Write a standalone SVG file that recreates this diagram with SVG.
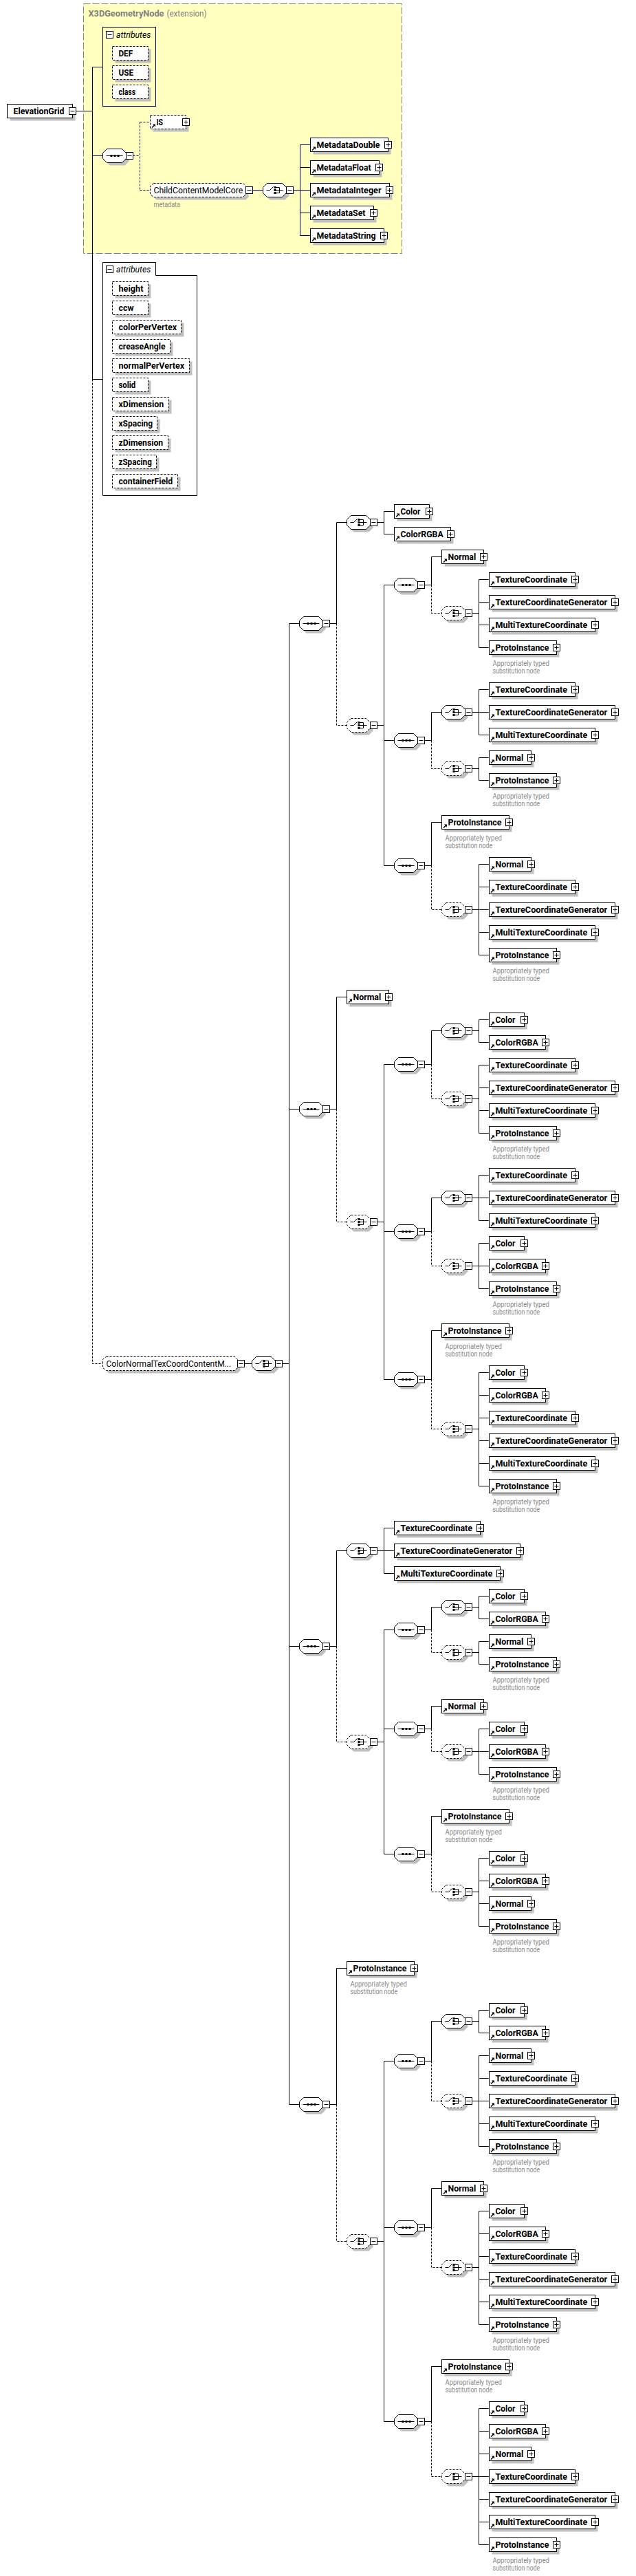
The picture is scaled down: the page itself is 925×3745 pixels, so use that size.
<svg xmlns="http://www.w3.org/2000/svg" width="925" height="3745" viewBox="0 0 925 3745">
<style>
text{font-family:Roboto,"Liberation Sans",sans-serif;fill:#000}
.t{font-size:12.5px;font-weight:700}
.r{font-size:12.5px}
.i{font-size:12.5px;font-style:italic}
.k{font-size:10.5px;fill:#8a8a8a}
.g{font-size:12.5px;fill:#808080}
.gb{font-size:12.5px;font-weight:700;fill:#808080}
.c{fill:none;stroke:#000;stroke-width:1}
.d{fill:none;stroke:#000;stroke-width:1;stroke-dasharray:3 2}
.b{fill:#fff;stroke:#000;stroke-width:1}
.bd{fill:#fff;stroke:#000;stroke-width:1;stroke-dasharray:3 2}
.s{fill:#c0c0c0}
.y{fill:#ffffc0;stroke:#808080;stroke-width:1;stroke-dasharray:10 3}
</style>
<defs>
<g id="m"><rect class="b" x="0" y="-5" width="10" height="10"/><path class="c" d="M2 0H8"/></g>
<g id="p"><rect class="b" x="-5" y="-5" width="10" height="10"/><path class="c" d="M-3 0H3M0 -3V3M0 5V7"/></g>
<g id="a"><path d="M2 8.5L5 5.5L3.5 4H7.5V8L6 6.5L3 9.5Z" fill="#000"/></g>
<path id="seqicon" class="c" d="M5 0H29"/>
<g id="seq"><polygon class="s" points="10,-6 32,-6 38,0 38,8 32,14 10,14 4,8 4,0"/><polygon class="b" points="6,-10 28,-10 34,-4 34,4 28,10 6,10 0,4 0,-4"/><use href="#seqicon"/><path d="M11 -1.5h3v3h-3zM16 -1.5h3v3h-3zM21 -1.5h3v3h-3z" fill="#000"/><use href="#m" x="34"/></g>
<g id="chi"><path class="c" d="M5 0H10L15 -5M18 -4H24V4H18M18 0H29"/><path d="M16 -5.5h3v3h-3zM16 -1.5h3v3h-3zM16 2.5h3v3h-3z" fill="#000"/></g>
<g id="ch"><polygon class="s" points="10,-6 32,-6 38,0 38,8 32,14 10,14 4,8 4,0"/><polygon class="b" points="6,-10 28,-10 34,-4 34,4 28,10 6,10 0,4 0,-4"/><use href="#chi"/><use href="#m" x="34"/></g>
<g id="chd"><polygon class="s" points="10,-6 32,-6 38,0 38,8 32,14 10,14 4,8 4,0"/><polygon class="bd" points="6,-10 28,-10 34,-4 34,4 28,10 6,10 0,4 0,-4"/><use href="#chi"/><use href="#m" x="34"/></g>
<g id="fC"><rect class="s" x="4" y="-6" width="51" height="20"/><rect class="b" x="0" y="-10" width="51" height="20"/><use href="#a" y="-1"/><use href="#p" x="51"/></g>
<g id="fR"><rect class="s" x="4" y="-6" width="82" height="20"/><rect class="b" x="0" y="-10" width="82" height="20"/><use href="#a" y="-1"/><use href="#p" x="82"/></g>
<g id="fN"><rect class="s" x="4" y="-6" width="61" height="20"/><rect class="b" x="0" y="-10" width="61" height="20"/><use href="#a" y="-1"/><use href="#p" x="61"/></g>
<g id="fT"><rect class="s" x="4" y="-6" width="125" height="20"/><rect class="b" x="0" y="-10" width="125" height="20"/><use href="#a" y="-1"/><use href="#p" x="125"/></g>
<g id="fG"><rect class="s" x="4" y="-6" width="183" height="20"/><rect class="b" x="0" y="-10" width="183" height="20"/><use href="#a" y="-1"/><use href="#p" x="183"/></g>
<g id="fM"><rect class="s" x="4" y="-6" width="154" height="20"/><rect class="b" x="0" y="-10" width="154" height="20"/><use href="#a" y="-1"/><use href="#p" x="154"/></g>
<g id="fP"><rect class="s" x="4" y="-6" width="98" height="20"/><rect class="b" x="0" y="-10" width="98" height="20"/><use href="#a" y="-1"/><use href="#p" x="98"/></g>
</defs>

<rect id="x3dgeometrynode-bg" class="y" x="121.5" y="5.5" width="463" height="363"/>
<text class="gb" x="128.5" y="24" textLength="110" lengthAdjust="spacingAndGlyphs">X3DGeometryNode</text>
<text class="g" x="242.5" y="24" textLength="58" lengthAdjust="spacingAndGlyphs">(extension)</text>

<g id="connectors">
<path class="c" d="M110.5 161.5H134.5M134.5 97.5V551.5M134.5 97.5H149.5M134.5 226.5H149.5M134.5 551.5H149.5"/>
<path class="d" d="M134.5 551.5V1982.5H149.5M193.5 226.5H203.5M203.5 177.5V276.5M203.5 177.5H218.5M203.5 276.5H218.5"/>
<path class="c" d="M367.5 276.5H382.5M426.5 276.5H436.5M436.5 210.5V342.5M436.5 210.5H451.5M436.5 243.5H451.5M436.5 276.5H451.5M436.5 309.5H451.5M436.5 342.5H451.5"/>
<path class="c" d="M355.5 1982.5H366.5M410.5 1982.5H420.5M420.5 906.5V3059.5M420.5 906.5H435.5M420.5 1612.5H435.5M420.5 2393.5H435.5M420.5 3059.5H435.5"/>

<path class="c" d="M479.5 906.5H489.5M489.5 759.5V906.5M489.5 759.5H504.5M548.5 759.5H558.5M558.5 743.5V776.5M558.5 743.5H573.5M558.5 776.5H573.5M548.5 1054.5H558.5M558.5 850.5V1258.5M558.5 850.5H573.5M558.5 1076.5H573.5M558.5 1258.5H573.5"/>
<path class="d" d="M489.5 906.5V1054.5H504.5M627.5 850.5V891.5H642.5M627.5 1076.5V1117.5H642.5M627.5 1258.5V1322.5H642.5"/>
<path class="c" d="M617.5 850.5H627.5M627.5 809.5V850.5M627.5 809.5H642.5M686.5 891.5H696.5M696.5 842.5V941.5M696.5 842.5H711.5M696.5 875.5H711.5M696.5 908.5H711.5M696.5 941.5H711.5"/>
<path class="c" d="M617.5 1076.5H627.5M627.5 1035.5V1076.5M627.5 1035.5H642.5M686.5 1035.5H696.5M696.5 1002.5V1068.5M696.5 1002.5H711.5M696.5 1035.5H711.5M696.5 1068.5H711.5M686.5 1117.5H696.5M696.5 1101.5V1134.5M696.5 1101.5H711.5M696.5 1134.5H711.5"/>
<path class="c" d="M617.5 1258.5H627.5M627.5 1195.5V1258.5M627.5 1195.5H642.5M686.5 1322.5H696.5M696.5 1256.5V1388.5M696.5 1256.5H711.5M696.5 1289.5H711.5M696.5 1322.5H711.5M696.5 1355.5H711.5M696.5 1388.5H711.5"/>

<path class="c" d="M479.5 1612.5H489.5M489.5 1449.5V1612.5M489.5 1449.5H504.5M548.5 1776.5H558.5M558.5 1547.5V2005.5M558.5 1547.5H573.5M558.5 1790.5H573.5M558.5 2005.5H573.5"/>
<path class="d" d="M489.5 1612.5V1776.5H504.5M627.5 1547.5V1597.5H642.5M627.5 1790.5V1840.5H642.5M627.5 2005.5V2077.5H642.5"/>
<path class="c" d="M617.5 1547.5H627.5M627.5 1498.5V1547.5M627.5 1498.5H642.5M686.5 1498.5H696.5M696.5 1482.5V1515.5M696.5 1482.5H711.5M696.5 1515.5H711.5M686.5 1597.5H696.5M696.5 1548.5V1647.5M696.5 1548.5H711.5M696.5 1581.5H711.5M696.5 1614.5H711.5M696.5 1647.5H711.5"/>
<path class="c" d="M617.5 1790.5H627.5M627.5 1741.5V1790.5M627.5 1741.5H642.5M686.5 1741.5H696.5M696.5 1708.5V1774.5M696.5 1708.5H711.5M696.5 1741.5H711.5M696.5 1774.5H711.5M686.5 1840.5H696.5M696.5 1807.5V1873.5M696.5 1807.5H711.5M696.5 1840.5H711.5M696.5 1873.5H711.5"/>
<path class="c" d="M617.5 2005.5H627.5M627.5 1934.5V2005.5M627.5 1934.5H642.5M686.5 2077.5H696.5M696.5 1995.5V2160.5M696.5 1995.5H711.5M696.5 2028.5H711.5M696.5 2061.5H711.5M696.5 2094.5H711.5M696.5 2127.5H711.5M696.5 2160.5H711.5"/>

<path class="c" d="M479.5 2393.5H489.5M489.5 2254.5V2393.5M489.5 2254.5H504.5M548.5 2254.5H558.5M558.5 2221.5V2287.5M558.5 2221.5H573.5M558.5 2254.5H573.5M558.5 2287.5H573.5M548.5 2532.5H558.5M558.5 2369.5V2695.5M558.5 2369.5H573.5M558.5 2513.5H573.5M558.5 2695.5H573.5"/>
<path class="d" d="M489.5 2393.5V2532.5H504.5M627.5 2369.5V2402.5H642.5M627.5 2513.5V2546.5H642.5M627.5 2695.5V2750.5H642.5"/>
<path class="c" d="M617.5 2369.5H627.5M627.5 2336.5V2369.5M627.5 2336.5H642.5M686.5 2336.5H696.5M696.5 2320.5V2353.5M696.5 2320.5H711.5M696.5 2353.5H711.5M686.5 2402.5H696.5M696.5 2386.5V2419.5M696.5 2386.5H711.5M696.5 2419.5H711.5"/>
<path class="c" d="M617.5 2513.5H627.5M627.5 2480.5V2513.5M627.5 2480.5H642.5M686.5 2546.5H696.5M696.5 2513.5V2579.5M696.5 2513.5H711.5M696.5 2546.5H711.5M696.5 2579.5H711.5"/>
<path class="c" d="M617.5 2695.5H627.5M627.5 2640.5V2695.5M627.5 2640.5H642.5M686.5 2750.5H696.5M696.5 2701.5V2800.5M696.5 2701.5H711.5M696.5 2734.5H711.5M696.5 2767.5H711.5M696.5 2800.5H711.5"/>

<path class="c" d="M479.5 3059.5H489.5M489.5 2861.5V3059.5M489.5 2861.5H504.5M548.5 3258.5H558.5M558.5 2996.5V3520.5M558.5 2996.5H573.5M558.5 3238.5H573.5M558.5 3520.5H573.5"/>
<path class="d" d="M489.5 3059.5V3258.5H504.5M627.5 2996.5V3054.5H642.5M627.5 3238.5V3296.5H642.5M627.5 3520.5V3600.5H642.5"/>
<path class="c" d="M617.5 2996.5H627.5M627.5 2938.5V2996.5M627.5 2938.5H642.5M686.5 2938.5H696.5M696.5 2922.5V2955.5M696.5 2922.5H711.5M696.5 2955.5H711.5M686.5 3054.5H696.5M696.5 2988.5V3120.5M696.5 2988.5H711.5M696.5 3021.5H711.5M696.5 3054.5H711.5M696.5 3087.5H711.5M696.5 3120.5H711.5"/>
<path class="c" d="M617.5 3238.5H627.5M627.5 3181.5V3238.5M627.5 3181.5H642.5M686.5 3296.5H696.5M696.5 3214.5V3379.5M696.5 3214.5H711.5M696.5 3247.5H711.5M696.5 3280.5H711.5M696.5 3313.5H711.5M696.5 3346.5H711.5M696.5 3379.5H711.5"/>
<path class="c" d="M617.5 3520.5H627.5M627.5 3440.5V3520.5M627.5 3440.5H642.5M686.5 3600.5H696.5M696.5 3501.5V3699.5M696.5 3501.5H711.5M696.5 3534.5H711.5M696.5 3567.5H711.5M696.5 3600.5H711.5M696.5 3633.5H711.5M696.5 3666.5H711.5M696.5 3699.5H711.5"/>
</g>

<g id="ElevationGrid"><rect class="s" x="14.5" y="155.5" width="95" height="20"/><rect class="b" x="10.5" y="151.5" width="95" height="20"/><use href="#m" x="100.5" y="161.5"/><text class="t" x="19.5" y="166" textLength="74" lengthAdjust="spacingAndGlyphs">ElevationGrid</text></g>

<g id="attrs1"><rect class="c" x="149.5" y="39.5" width="77" height="115"/><use href="#m" x="154.5" y="50.5"/><text class="i" x="169" y="55" textLength="50.3" lengthAdjust="spacingAndGlyphs">attributes</text></g>
<g id="attr-DEF"><rect class="s" x="167.5" y="71.5" width="52" height="20"/><rect class="bd" x="163.5" y="67.5" width="52" height="20"/><text class="t" x="172.5" y="82" textLength="20.6" lengthAdjust="spacingAndGlyphs">DEF</text></g>
<g id="attr-USE"><rect class="s" x="167.5" y="99.5" width="52" height="20"/><rect class="bd" x="163.5" y="95.5" width="52" height="20"/><text class="t" x="172.5" y="110" textLength="21.7" lengthAdjust="spacingAndGlyphs">USE</text></g>
<g id="attr-class"><rect class="s" x="167.5" y="127.5" width="52" height="20"/><rect class="bd" x="163.5" y="123.5" width="52" height="20"/><text class="t" x="172.5" y="138" textLength="24.5" lengthAdjust="spacingAndGlyphs">class</text></g>

<g id="seq-top" transform="translate(149.5 226.5)"><use href="#seq"/></g>
<g id="IS" transform="translate(218.5 177.5)"><rect class="s" x="4" y="-6" width="52" height="20"/><rect class="bd" x="0" y="-10" width="52" height="20"/><use href="#a" y="-1"/><use href="#p" x="52"/><text class="t" x="9" y="4.5" textLength="9.5" lengthAdjust="spacingAndGlyphs">IS</text></g>
<g id="ChildContentModelCore" transform="translate(218.5 276.5)"><polygon class="s" points="9,-6 139,-6 143,-2 143,10 139,14 9,14 5,10 5,-2"/><polygon class="bd" points="5,-10 135,-10 139,-6 139,6 135,10 5,10 0,6 0,-6"/><use href="#m" x="139"/><text class="r" x="5" y="4.5" textLength="129.7" lengthAdjust="spacingAndGlyphs">ChildContentModelCore</text><text class="k" x="5" y="24.5" textLength="38.4" lengthAdjust="spacingAndGlyphs">metadata</text></g>
<g id="ch-meta" transform="translate(382.5 276.5)"><use href="#ch"/></g>
<g id="MetadataDouble" transform="translate(451.5 210.5)"><rect class="s" x="4" y="-6" width="113" height="20"/><rect class="b" x="0" y="-10" width="113" height="20"/><use href="#a" y="-1"/><use href="#p" x="113"/><text class="t" x="9" y="4.5" textLength="92" lengthAdjust="spacingAndGlyphs">MetadataDouble</text></g>
<g id="MetadataFloat" transform="translate(451.5 243.5)"><rect class="s" x="4" y="-6" width="100" height="20"/><rect class="b" x="0" y="-10" width="100" height="20"/><use href="#a" y="-1"/><use href="#p" x="100"/><text class="t" x="9" y="4.5" textLength="79" lengthAdjust="spacingAndGlyphs">MetadataFloat</text></g>
<g id="MetadataInteger" transform="translate(451.5 276.5)"><rect class="s" x="4" y="-6" width="115" height="20"/><rect class="b" x="0" y="-10" width="115" height="20"/><use href="#a" y="-1"/><use href="#p" x="115"/><text class="t" x="9" y="4.5" textLength="94" lengthAdjust="spacingAndGlyphs">MetadataInteger</text></g>
<g id="MetadataSet" transform="translate(451.5 309.5)"><rect class="s" x="4" y="-6" width="92" height="20"/><rect class="b" x="0" y="-10" width="92" height="20"/><use href="#a" y="-1"/><use href="#p" x="92"/><text class="t" x="9" y="4.5" textLength="71" lengthAdjust="spacingAndGlyphs">MetadataSet</text></g>
<g id="MetadataString" transform="translate(451.5 342.5)"><rect class="s" x="4" y="-6" width="107" height="20"/><rect class="b" x="0" y="-10" width="107" height="20"/><use href="#a" y="-1"/><use href="#p" x="107"/><text class="t" x="9" y="4.5" textLength="86" lengthAdjust="spacingAndGlyphs">MetadataString</text></g>

<g id="attrs2"><path class="c" d="M149.5 381.5H226.5V400.5H286.5V720.5H149.5Z"/><use href="#m" x="154.5" y="391.5"/><text class="i" x="169" y="396" textLength="50.3" lengthAdjust="spacingAndGlyphs">attributes</text></g>
<g id="attr-height" transform="translate(163.5 419.5)"><rect class="s" x="4" y="-6" width="52" height="20"/><rect class="bd" y="-10" width="52" height="20"/><text class="t" x="9" y="4.5" textLength="36" lengthAdjust="spacingAndGlyphs">height</text></g>
<g id="attr-ccw" transform="translate(163.5 447.5)"><rect class="s" x="4" y="-6" width="52" height="20"/><rect class="bd" y="-10" width="52" height="20"/><text class="t" x="9" y="4.5" textLength="22" lengthAdjust="spacingAndGlyphs">ccw</text></g>
<g id="attr-colorPerVertex" transform="translate(163.5 475.5)"><rect class="s" x="4" y="-6" width="100" height="20"/><rect class="bd" y="-10" width="100" height="20"/><text class="t" x="9" y="4.5" textLength="84.7" lengthAdjust="spacingAndGlyphs">colorPerVertex</text></g>
<g id="attr-creaseAngle" transform="translate(163.5 503.5)"><rect class="s" x="4" y="-6" width="84" height="20"/><rect class="bd" y="-10" width="84" height="20"/><text class="t" x="9" y="4.5" textLength="68" lengthAdjust="spacingAndGlyphs">creaseAngle</text></g>
<g id="attr-normalPerVertex" transform="translate(163.5 531.5)"><rect class="s" x="4" y="-6" width="112" height="20"/><rect class="bd" y="-10" width="112" height="20"/><text class="t" x="9" y="4.5" textLength="95.7" lengthAdjust="spacingAndGlyphs">normalPerVertex</text></g>
<g id="attr-solid" transform="translate(163.5 559.5)"><rect class="s" x="4" y="-6" width="52" height="20"/><rect class="bd" y="-10" width="52" height="20"/><text class="t" x="9" y="4.5" textLength="24.7" lengthAdjust="spacingAndGlyphs">solid</text></g>
<g id="attr-xDimension" transform="translate(163.5 587.5)"><rect class="s" x="4" y="-6" width="82" height="20"/><rect class="bd" y="-10" width="82" height="20"/><text class="t" x="9" y="4.5" textLength="65.7" lengthAdjust="spacingAndGlyphs">xDimension</text></g>
<g id="attr-xSpacing" transform="translate(163.5 615.5)"><rect class="s" x="4" y="-6" width="65" height="20"/><rect class="bd" y="-10" width="65" height="20"/><text class="t" x="9" y="4.5" textLength="49.7" lengthAdjust="spacingAndGlyphs">xSpacing</text></g>
<g id="attr-zDimension" transform="translate(163.5 643.5)"><rect class="s" x="4" y="-6" width="81" height="20"/><rect class="bd" y="-10" width="81" height="20"/><text class="t" x="9" y="4.5" textLength="64.7" lengthAdjust="spacingAndGlyphs">zDimension</text></g>
<g id="attr-zSpacing" transform="translate(163.5 671.5)"><rect class="s" x="4" y="-6" width="64" height="20"/><rect class="bd" y="-10" width="64" height="20"/><text class="t" x="9" y="4.5" textLength="48.3" lengthAdjust="spacingAndGlyphs">zSpacing</text></g>
<g id="attr-containerField" transform="translate(163.5 699.5)"><rect class="s" x="4" y="-6" width="95" height="20"/><rect class="bd" y="-10" width="95" height="20"/><text class="t" x="9" y="4.5" textLength="78.7" lengthAdjust="spacingAndGlyphs">containerField</text></g>

<g id="ColorNormalTexCoordContentModel" transform="translate(149.5 1982.5)"><polygon class="s" points="9,-6 196,-6 200,-2 200,10 196,14 9,14 5,10 5,-2"/><polygon class="bd" points="5,-10 192,-10 196,-6 196,6 192,10 5,10 0,6 0,-6"/><use href="#m" x="196"/><text class="r" x="5" y="4.5" textLength="181.7" lengthAdjust="spacingAndGlyphs">ColorNormalTexCoordContentM...</text></g>
<g id="ch-cn" transform="translate(366.5 1982.5)"><use href="#ch"/></g>

<g id="s1" transform="translate(435.5 906.5)"><use href="#seq"/></g>
<g id="s1a" transform="translate(504.5 759.5)"><use href="#ch"/></g>
<g id="n001" transform="translate(573.5 743.5)"><use href="#fC"/><text class="t" x="9" y="4.5" textLength="28.9" lengthAdjust="spacingAndGlyphs">Color</text></g>
<g id="n002" transform="translate(573.5 776.5)"><use href="#fR"/><text class="t" x="9" y="4.5" textLength="62.2" lengthAdjust="spacingAndGlyphs">ColorRGBA</text></g>
<g id="s1b" transform="translate(504.5 1054.5)"><use href="#chd"/></g>
<g id="s1b1" transform="translate(573.5 850.5)"><use href="#seq"/></g>
<g id="n003" transform="translate(642.5 809.5)"><use href="#fN"/><text class="t" x="9" y="4.5" textLength="40.7" lengthAdjust="spacingAndGlyphs">Normal</text></g>
<g id="s1b1a" transform="translate(642.5 891.5)"><use href="#chd"/></g>
<g id="n004" transform="translate(711.5 842.5)"><use href="#fT"/><text class="t" x="9" y="4.5" textLength="104.6" lengthAdjust="spacingAndGlyphs">TextureCoordinate</text></g>
<g id="n005" transform="translate(711.5 875.5)"><use href="#fG"/><text class="t" x="9" y="4.5" textLength="162.7" lengthAdjust="spacingAndGlyphs">TextureCoordinateGenerator</text></g>
<g id="n006" transform="translate(711.5 908.5)"><use href="#fM"/><text class="t" x="9" y="4.5" textLength="133.8" lengthAdjust="spacingAndGlyphs">MultiTextureCoordinate</text></g>
<g id="n007" transform="translate(711.5 941.5)"><use href="#fP"/><text class="t" x="9" y="4.5" textLength="77.9" lengthAdjust="spacingAndGlyphs">ProtoInstance</text><text class="k" x="5" y="26.5" textLength="82.4" lengthAdjust="spacingAndGlyphs">Appropriately typed</text><text class="k" x="5" y="37.5" textLength="68.8" lengthAdjust="spacingAndGlyphs">substitution node</text></g>
<g id="s1b2" transform="translate(573.5 1076.5)"><use href="#seq"/></g>
<g id="s1b2a" transform="translate(642.5 1035.5)"><use href="#ch"/></g>
<g id="n008" transform="translate(711.5 1002.5)"><use href="#fT"/><text class="t" x="9" y="4.5" textLength="104.6" lengthAdjust="spacingAndGlyphs">TextureCoordinate</text></g>
<g id="n009" transform="translate(711.5 1035.5)"><use href="#fG"/><text class="t" x="9" y="4.5" textLength="162.7" lengthAdjust="spacingAndGlyphs">TextureCoordinateGenerator</text></g>
<g id="n010" transform="translate(711.5 1068.5)"><use href="#fM"/><text class="t" x="9" y="4.5" textLength="133.8" lengthAdjust="spacingAndGlyphs">MultiTextureCoordinate</text></g>
<g id="s1b2b" transform="translate(642.5 1117.5)"><use href="#chd"/></g>
<g id="n011" transform="translate(711.5 1101.5)"><use href="#fN"/><text class="t" x="9" y="4.5" textLength="40.7" lengthAdjust="spacingAndGlyphs">Normal</text></g>
<g id="n012" transform="translate(711.5 1134.5)"><use href="#fP"/><text class="t" x="9" y="4.5" textLength="77.9" lengthAdjust="spacingAndGlyphs">ProtoInstance</text><text class="k" x="5" y="26.5" textLength="82.4" lengthAdjust="spacingAndGlyphs">Appropriately typed</text><text class="k" x="5" y="37.5" textLength="68.8" lengthAdjust="spacingAndGlyphs">substitution node</text></g>
<g id="s1b3" transform="translate(573.5 1258.5)"><use href="#seq"/></g>
<g id="n013" transform="translate(642.5 1195.5)"><use href="#fP"/><text class="t" x="9" y="4.5" textLength="77.9" lengthAdjust="spacingAndGlyphs">ProtoInstance</text><text class="k" x="5" y="26.5" textLength="82.4" lengthAdjust="spacingAndGlyphs">Appropriately typed</text><text class="k" x="5" y="37.5" textLength="68.8" lengthAdjust="spacingAndGlyphs">substitution node</text></g>
<g id="s1b3a" transform="translate(642.5 1322.5)"><use href="#chd"/></g>
<g id="n014" transform="translate(711.5 1256.5)"><use href="#fN"/><text class="t" x="9" y="4.5" textLength="40.7" lengthAdjust="spacingAndGlyphs">Normal</text></g>
<g id="n015" transform="translate(711.5 1289.5)"><use href="#fT"/><text class="t" x="9" y="4.5" textLength="104.6" lengthAdjust="spacingAndGlyphs">TextureCoordinate</text></g>
<g id="n016" transform="translate(711.5 1322.5)"><use href="#fG"/><text class="t" x="9" y="4.5" textLength="162.7" lengthAdjust="spacingAndGlyphs">TextureCoordinateGenerator</text></g>
<g id="n017" transform="translate(711.5 1355.5)"><use href="#fM"/><text class="t" x="9" y="4.5" textLength="133.8" lengthAdjust="spacingAndGlyphs">MultiTextureCoordinate</text></g>
<g id="n018" transform="translate(711.5 1388.5)"><use href="#fP"/><text class="t" x="9" y="4.5" textLength="77.9" lengthAdjust="spacingAndGlyphs">ProtoInstance</text><text class="k" x="5" y="26.5" textLength="82.4" lengthAdjust="spacingAndGlyphs">Appropriately typed</text><text class="k" x="5" y="37.5" textLength="68.8" lengthAdjust="spacingAndGlyphs">substitution node</text></g>

<g id="s2" transform="translate(435.5 1612.5)"><use href="#seq"/></g>
<g id="n019" transform="translate(504.5 1449.5)"><use href="#fN"/><text class="t" x="9" y="4.5" textLength="40.7" lengthAdjust="spacingAndGlyphs">Normal</text></g>
<g id="s2b" transform="translate(504.5 1776.5)"><use href="#chd"/></g>
<g id="s2b1" transform="translate(573.5 1547.5)"><use href="#seq"/></g>
<g id="s2b1a" transform="translate(642.5 1498.5)"><use href="#ch"/></g>
<g id="n020" transform="translate(711.5 1482.5)"><use href="#fC"/><text class="t" x="9" y="4.5" textLength="28.9" lengthAdjust="spacingAndGlyphs">Color</text></g>
<g id="n021" transform="translate(711.5 1515.5)"><use href="#fR"/><text class="t" x="9" y="4.5" textLength="62.2" lengthAdjust="spacingAndGlyphs">ColorRGBA</text></g>
<g id="s2b1b" transform="translate(642.5 1597.5)"><use href="#chd"/></g>
<g id="n022" transform="translate(711.5 1548.5)"><use href="#fT"/><text class="t" x="9" y="4.5" textLength="104.6" lengthAdjust="spacingAndGlyphs">TextureCoordinate</text></g>
<g id="n023" transform="translate(711.5 1581.5)"><use href="#fG"/><text class="t" x="9" y="4.5" textLength="162.7" lengthAdjust="spacingAndGlyphs">TextureCoordinateGenerator</text></g>
<g id="n024" transform="translate(711.5 1614.5)"><use href="#fM"/><text class="t" x="9" y="4.5" textLength="133.8" lengthAdjust="spacingAndGlyphs">MultiTextureCoordinate</text></g>
<g id="n025" transform="translate(711.5 1647.5)"><use href="#fP"/><text class="t" x="9" y="4.5" textLength="77.9" lengthAdjust="spacingAndGlyphs">ProtoInstance</text><text class="k" x="5" y="26.5" textLength="82.4" lengthAdjust="spacingAndGlyphs">Appropriately typed</text><text class="k" x="5" y="37.5" textLength="68.8" lengthAdjust="spacingAndGlyphs">substitution node</text></g>
<g id="s2b2" transform="translate(573.5 1790.5)"><use href="#seq"/></g>
<g id="s2b2a" transform="translate(642.5 1741.5)"><use href="#ch"/></g>
<g id="n026" transform="translate(711.5 1708.5)"><use href="#fT"/><text class="t" x="9" y="4.5" textLength="104.6" lengthAdjust="spacingAndGlyphs">TextureCoordinate</text></g>
<g id="n027" transform="translate(711.5 1741.5)"><use href="#fG"/><text class="t" x="9" y="4.5" textLength="162.7" lengthAdjust="spacingAndGlyphs">TextureCoordinateGenerator</text></g>
<g id="n028" transform="translate(711.5 1774.5)"><use href="#fM"/><text class="t" x="9" y="4.5" textLength="133.8" lengthAdjust="spacingAndGlyphs">MultiTextureCoordinate</text></g>
<g id="s2b2b" transform="translate(642.5 1840.5)"><use href="#chd"/></g>
<g id="n029" transform="translate(711.5 1807.5)"><use href="#fC"/><text class="t" x="9" y="4.5" textLength="28.9" lengthAdjust="spacingAndGlyphs">Color</text></g>
<g id="n030" transform="translate(711.5 1840.5)"><use href="#fR"/><text class="t" x="9" y="4.5" textLength="62.2" lengthAdjust="spacingAndGlyphs">ColorRGBA</text></g>
<g id="n031" transform="translate(711.5 1873.5)"><use href="#fP"/><text class="t" x="9" y="4.5" textLength="77.9" lengthAdjust="spacingAndGlyphs">ProtoInstance</text><text class="k" x="5" y="26.5" textLength="82.4" lengthAdjust="spacingAndGlyphs">Appropriately typed</text><text class="k" x="5" y="37.5" textLength="68.8" lengthAdjust="spacingAndGlyphs">substitution node</text></g>
<g id="s2b3" transform="translate(573.5 2005.5)"><use href="#seq"/></g>
<g id="n032" transform="translate(642.5 1934.5)"><use href="#fP"/><text class="t" x="9" y="4.5" textLength="77.9" lengthAdjust="spacingAndGlyphs">ProtoInstance</text><text class="k" x="5" y="26.5" textLength="82.4" lengthAdjust="spacingAndGlyphs">Appropriately typed</text><text class="k" x="5" y="37.5" textLength="68.8" lengthAdjust="spacingAndGlyphs">substitution node</text></g>
<g id="s2b3a" transform="translate(642.5 2077.5)"><use href="#chd"/></g>
<g id="n033" transform="translate(711.5 1995.5)"><use href="#fC"/><text class="t" x="9" y="4.5" textLength="28.9" lengthAdjust="spacingAndGlyphs">Color</text></g>
<g id="n034" transform="translate(711.5 2028.5)"><use href="#fR"/><text class="t" x="9" y="4.5" textLength="62.2" lengthAdjust="spacingAndGlyphs">ColorRGBA</text></g>
<g id="n035" transform="translate(711.5 2061.5)"><use href="#fT"/><text class="t" x="9" y="4.5" textLength="104.6" lengthAdjust="spacingAndGlyphs">TextureCoordinate</text></g>
<g id="n036" transform="translate(711.5 2094.5)"><use href="#fG"/><text class="t" x="9" y="4.5" textLength="162.7" lengthAdjust="spacingAndGlyphs">TextureCoordinateGenerator</text></g>
<g id="n037" transform="translate(711.5 2127.5)"><use href="#fM"/><text class="t" x="9" y="4.5" textLength="133.8" lengthAdjust="spacingAndGlyphs">MultiTextureCoordinate</text></g>
<g id="n038" transform="translate(711.5 2160.5)"><use href="#fP"/><text class="t" x="9" y="4.5" textLength="77.9" lengthAdjust="spacingAndGlyphs">ProtoInstance</text><text class="k" x="5" y="26.5" textLength="82.4" lengthAdjust="spacingAndGlyphs">Appropriately typed</text><text class="k" x="5" y="37.5" textLength="68.8" lengthAdjust="spacingAndGlyphs">substitution node</text></g>

<g id="s3" transform="translate(435.5 2393.5)"><use href="#seq"/></g>
<g id="s3a" transform="translate(504.5 2254.5)"><use href="#ch"/></g>
<g id="n039" transform="translate(573.5 2221.5)"><use href="#fT"/><text class="t" x="9" y="4.5" textLength="104.6" lengthAdjust="spacingAndGlyphs">TextureCoordinate</text></g>
<g id="n040" transform="translate(573.5 2254.5)"><use href="#fG"/><text class="t" x="9" y="4.5" textLength="162.7" lengthAdjust="spacingAndGlyphs">TextureCoordinateGenerator</text></g>
<g id="n041" transform="translate(573.5 2287.5)"><use href="#fM"/><text class="t" x="9" y="4.5" textLength="133.8" lengthAdjust="spacingAndGlyphs">MultiTextureCoordinate</text></g>
<g id="s3b" transform="translate(504.5 2532.5)"><use href="#chd"/></g>
<g id="s3b1" transform="translate(573.5 2369.5)"><use href="#seq"/></g>
<g id="s3b1a" transform="translate(642.5 2336.5)"><use href="#ch"/></g>
<g id="n042" transform="translate(711.5 2320.5)"><use href="#fC"/><text class="t" x="9" y="4.5" textLength="28.9" lengthAdjust="spacingAndGlyphs">Color</text></g>
<g id="n043" transform="translate(711.5 2353.5)"><use href="#fR"/><text class="t" x="9" y="4.5" textLength="62.2" lengthAdjust="spacingAndGlyphs">ColorRGBA</text></g>
<g id="s3b1b" transform="translate(642.5 2402.5)"><use href="#chd"/></g>
<g id="n044" transform="translate(711.5 2386.5)"><use href="#fN"/><text class="t" x="9" y="4.5" textLength="40.7" lengthAdjust="spacingAndGlyphs">Normal</text></g>
<g id="n045" transform="translate(711.5 2419.5)"><use href="#fP"/><text class="t" x="9" y="4.5" textLength="77.9" lengthAdjust="spacingAndGlyphs">ProtoInstance</text><text class="k" x="5" y="26.5" textLength="82.4" lengthAdjust="spacingAndGlyphs">Appropriately typed</text><text class="k" x="5" y="37.5" textLength="68.8" lengthAdjust="spacingAndGlyphs">substitution node</text></g>
<g id="s3b2" transform="translate(573.5 2513.5)"><use href="#seq"/></g>
<g id="n046" transform="translate(642.5 2480.5)"><use href="#fN"/><text class="t" x="9" y="4.5" textLength="40.7" lengthAdjust="spacingAndGlyphs">Normal</text></g>
<g id="s3b2a" transform="translate(642.5 2546.5)"><use href="#chd"/></g>
<g id="n047" transform="translate(711.5 2513.5)"><use href="#fC"/><text class="t" x="9" y="4.5" textLength="28.9" lengthAdjust="spacingAndGlyphs">Color</text></g>
<g id="n048" transform="translate(711.5 2546.5)"><use href="#fR"/><text class="t" x="9" y="4.5" textLength="62.2" lengthAdjust="spacingAndGlyphs">ColorRGBA</text></g>
<g id="n049" transform="translate(711.5 2579.5)"><use href="#fP"/><text class="t" x="9" y="4.5" textLength="77.9" lengthAdjust="spacingAndGlyphs">ProtoInstance</text><text class="k" x="5" y="26.5" textLength="82.4" lengthAdjust="spacingAndGlyphs">Appropriately typed</text><text class="k" x="5" y="37.5" textLength="68.8" lengthAdjust="spacingAndGlyphs">substitution node</text></g>
<g id="s3b3" transform="translate(573.5 2695.5)"><use href="#seq"/></g>
<g id="n050" transform="translate(642.5 2640.5)"><use href="#fP"/><text class="t" x="9" y="4.5" textLength="77.9" lengthAdjust="spacingAndGlyphs">ProtoInstance</text><text class="k" x="5" y="26.5" textLength="82.4" lengthAdjust="spacingAndGlyphs">Appropriately typed</text><text class="k" x="5" y="37.5" textLength="68.8" lengthAdjust="spacingAndGlyphs">substitution node</text></g>
<g id="s3b3a" transform="translate(642.5 2750.5)"><use href="#chd"/></g>
<g id="n051" transform="translate(711.5 2701.5)"><use href="#fC"/><text class="t" x="9" y="4.5" textLength="28.9" lengthAdjust="spacingAndGlyphs">Color</text></g>
<g id="n052" transform="translate(711.5 2734.5)"><use href="#fR"/><text class="t" x="9" y="4.5" textLength="62.2" lengthAdjust="spacingAndGlyphs">ColorRGBA</text></g>
<g id="n053" transform="translate(711.5 2767.5)"><use href="#fN"/><text class="t" x="9" y="4.5" textLength="40.7" lengthAdjust="spacingAndGlyphs">Normal</text></g>
<g id="n054" transform="translate(711.5 2800.5)"><use href="#fP"/><text class="t" x="9" y="4.5" textLength="77.9" lengthAdjust="spacingAndGlyphs">ProtoInstance</text><text class="k" x="5" y="26.5" textLength="82.4" lengthAdjust="spacingAndGlyphs">Appropriately typed</text><text class="k" x="5" y="37.5" textLength="68.8" lengthAdjust="spacingAndGlyphs">substitution node</text></g>

<g id="s4" transform="translate(435.5 3059.5)"><use href="#seq"/></g>
<g id="n055" transform="translate(504.5 2861.5)"><use href="#fP"/><text class="t" x="9" y="4.5" textLength="77.9" lengthAdjust="spacingAndGlyphs">ProtoInstance</text><text class="k" x="5" y="26.5" textLength="82.4" lengthAdjust="spacingAndGlyphs">Appropriately typed</text><text class="k" x="5" y="37.5" textLength="68.8" lengthAdjust="spacingAndGlyphs">substitution node</text></g>
<g id="s4b" transform="translate(504.5 3258.5)"><use href="#chd"/></g>
<g id="s4b1" transform="translate(573.5 2996.5)"><use href="#seq"/></g>
<g id="s4b1a" transform="translate(642.5 2938.5)"><use href="#ch"/></g>
<g id="n056" transform="translate(711.5 2922.5)"><use href="#fC"/><text class="t" x="9" y="4.5" textLength="28.9" lengthAdjust="spacingAndGlyphs">Color</text></g>
<g id="n057" transform="translate(711.5 2955.5)"><use href="#fR"/><text class="t" x="9" y="4.5" textLength="62.2" lengthAdjust="spacingAndGlyphs">ColorRGBA</text></g>
<g id="s4b1b" transform="translate(642.5 3054.5)"><use href="#chd"/></g>
<g id="n058" transform="translate(711.5 2988.5)"><use href="#fN"/><text class="t" x="9" y="4.5" textLength="40.7" lengthAdjust="spacingAndGlyphs">Normal</text></g>
<g id="n059" transform="translate(711.5 3021.5)"><use href="#fT"/><text class="t" x="9" y="4.5" textLength="104.6" lengthAdjust="spacingAndGlyphs">TextureCoordinate</text></g>
<g id="n060" transform="translate(711.5 3054.5)"><use href="#fG"/><text class="t" x="9" y="4.5" textLength="162.7" lengthAdjust="spacingAndGlyphs">TextureCoordinateGenerator</text></g>
<g id="n061" transform="translate(711.5 3087.5)"><use href="#fM"/><text class="t" x="9" y="4.5" textLength="133.8" lengthAdjust="spacingAndGlyphs">MultiTextureCoordinate</text></g>
<g id="n062" transform="translate(711.5 3120.5)"><use href="#fP"/><text class="t" x="9" y="4.5" textLength="77.9" lengthAdjust="spacingAndGlyphs">ProtoInstance</text><text class="k" x="5" y="26.5" textLength="82.4" lengthAdjust="spacingAndGlyphs">Appropriately typed</text><text class="k" x="5" y="37.5" textLength="68.8" lengthAdjust="spacingAndGlyphs">substitution node</text></g>
<g id="s4b2" transform="translate(573.5 3238.5)"><use href="#seq"/></g>
<g id="n063" transform="translate(642.5 3181.5)"><use href="#fN"/><text class="t" x="9" y="4.5" textLength="40.7" lengthAdjust="spacingAndGlyphs">Normal</text></g>
<g id="s4b2a" transform="translate(642.5 3296.5)"><use href="#chd"/></g>
<g id="n064" transform="translate(711.5 3214.5)"><use href="#fC"/><text class="t" x="9" y="4.5" textLength="28.9" lengthAdjust="spacingAndGlyphs">Color</text></g>
<g id="n065" transform="translate(711.5 3247.5)"><use href="#fR"/><text class="t" x="9" y="4.5" textLength="62.2" lengthAdjust="spacingAndGlyphs">ColorRGBA</text></g>
<g id="n066" transform="translate(711.5 3280.5)"><use href="#fT"/><text class="t" x="9" y="4.5" textLength="104.6" lengthAdjust="spacingAndGlyphs">TextureCoordinate</text></g>
<g id="n067" transform="translate(711.5 3313.5)"><use href="#fG"/><text class="t" x="9" y="4.5" textLength="162.7" lengthAdjust="spacingAndGlyphs">TextureCoordinateGenerator</text></g>
<g id="n068" transform="translate(711.5 3346.5)"><use href="#fM"/><text class="t" x="9" y="4.5" textLength="133.8" lengthAdjust="spacingAndGlyphs">MultiTextureCoordinate</text></g>
<g id="n069" transform="translate(711.5 3379.5)"><use href="#fP"/><text class="t" x="9" y="4.5" textLength="77.9" lengthAdjust="spacingAndGlyphs">ProtoInstance</text><text class="k" x="5" y="26.5" textLength="82.4" lengthAdjust="spacingAndGlyphs">Appropriately typed</text><text class="k" x="5" y="37.5" textLength="68.8" lengthAdjust="spacingAndGlyphs">substitution node</text></g>
<g id="s4b3" transform="translate(573.5 3520.5)"><use href="#seq"/></g>
<g id="n070" transform="translate(642.5 3440.5)"><use href="#fP"/><text class="t" x="9" y="4.5" textLength="77.9" lengthAdjust="spacingAndGlyphs">ProtoInstance</text><text class="k" x="5" y="26.5" textLength="82.4" lengthAdjust="spacingAndGlyphs">Appropriately typed</text><text class="k" x="5" y="37.5" textLength="68.8" lengthAdjust="spacingAndGlyphs">substitution node</text></g>
<g id="s4b3a" transform="translate(642.5 3600.5)"><use href="#chd"/></g>
<g id="n071" transform="translate(711.5 3501.5)"><use href="#fC"/><text class="t" x="9" y="4.5" textLength="28.9" lengthAdjust="spacingAndGlyphs">Color</text></g>
<g id="n072" transform="translate(711.5 3534.5)"><use href="#fR"/><text class="t" x="9" y="4.5" textLength="62.2" lengthAdjust="spacingAndGlyphs">ColorRGBA</text></g>
<g id="n073" transform="translate(711.5 3567.5)"><use href="#fN"/><text class="t" x="9" y="4.5" textLength="40.7" lengthAdjust="spacingAndGlyphs">Normal</text></g>
<g id="n074" transform="translate(711.5 3600.5)"><use href="#fT"/><text class="t" x="9" y="4.5" textLength="104.6" lengthAdjust="spacingAndGlyphs">TextureCoordinate</text></g>
<g id="n075" transform="translate(711.5 3633.5)"><use href="#fG"/><text class="t" x="9" y="4.5" textLength="162.7" lengthAdjust="spacingAndGlyphs">TextureCoordinateGenerator</text></g>
<g id="n076" transform="translate(711.5 3666.5)"><use href="#fM"/><text class="t" x="9" y="4.5" textLength="133.8" lengthAdjust="spacingAndGlyphs">MultiTextureCoordinate</text></g>
<g id="n077" transform="translate(711.5 3699.5)"><use href="#fP"/><text class="t" x="9" y="4.5" textLength="77.9" lengthAdjust="spacingAndGlyphs">ProtoInstance</text><text class="k" x="5" y="26.5" textLength="82.4" lengthAdjust="spacingAndGlyphs">Appropriately typed</text><text class="k" x="5" y="37.5" textLength="68.8" lengthAdjust="spacingAndGlyphs">substitution node</text></g>
</svg>
